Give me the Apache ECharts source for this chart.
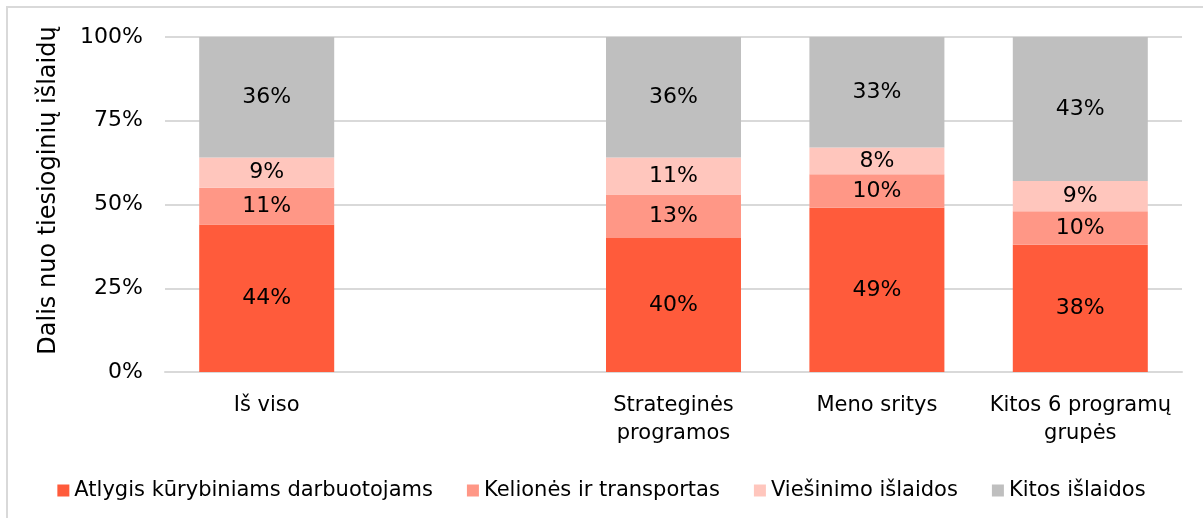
<!DOCTYPE html>
<html>
<head>
<meta charset="utf-8">
<script src="https://cdn.jsdelivr.net/npm/echarts@6/dist/echarts.min.js"></script>
<style>
	html, body { margin: 0; padding: 0; background: #fff; }
	#frame { position: absolute; left: 6px; top: 6px; width: 1210px; height: 530px; border: 2px solid #d9d9d9; box-sizing: border-box; }
	#myEchart { position: absolute; left: 0; top: 0; width: 1203px; height: 518px; }
</style>
</head>
<body>
<div id="frame"></div>
<div id="myEchart"></div>
<script>
var categories = ['Iš viso', '', 'Strateginės\nprogramos', 'Meno sritys', 'Kitos 6 programų\ngrupės'];
var seriesNames = ['Atlygis kūrybiniams darbuotojams', 'Kelionės ir transportas', 'Viešinimo išlaidos', 'Kitos išlaidos'];
var atlygis = [44, '-', 40, 49, 38];
var keliones = [11, '-', 13, 10, 10];
var viesinimas = [9, '-', 11, 8, 9];
var kitos = [36, '-', 36, 33, 43];
var yTicks = [0, 25, 50, 75, 100];

var colors = ['#ff5b3b', '#ff9786', '#ffc6bd', '#bfbfbf'];
var font = 'DejaVu Sans';

function makeSeries (name, data) {
	return {
		name: name,
		type: 'bar',
		stack: 'total',
		barWidth: 135,
		data: data,
		label: {
			show: true,
			position: 'inside',
			color: '#000',
			fontFamily: font,
			fontSize: 22,
			formatter: function (p) { return p.value + '%'; }
		}
	};
}

var chart = echarts.init(document.getElementById('myEchart'));
var option = {
	animation: false,
	color: colors,
	textStyle: { fontFamily: font },
	grid: { left: 165, right: 21, top: 37, bottom: 146 },
	legend: {
		data: seriesNames,
		bottom: 12,
		left: 'center',
		itemWidth: 12,
		itemHeight: 12,
		itemGap: 34,
		icon: 'rect',
		textStyle: { color: '#000', fontSize: 21, fontFamily: font }
	},
	xAxis: {
		type: 'category',
		data: categories,
		axisLine: { lineStyle: { color: '#d9d9d9', width: 2 } },
		axisTick: { show: false },
		axisLabel: { color: '#000', fontSize: 21, fontFamily: font, lineHeight: 28, margin: 20, interval: 0 }
	},
	yAxis: {
		type: 'value',
		min: yTicks[0],
		max: yTicks[yTicks.length - 1],
		interval: 25,
		name: 'Dalis nuo tiesioginių išlaidų',
		nameLocation: 'middle',
		nameGap: 104,
		nameTextStyle: { color: '#000', fontSize: 24, fontFamily: font, padding: [0, 0, 0, 28] },
		axisLine: { show: false },
		axisTick: { show: false },
		splitLine: { lineStyle: { color: '#d9d9d9', width: 2 } },
		axisLabel: { color: '#000', fontSize: 22, fontFamily: font, margin: 22, formatter: '{value}%' }
	},
	series: [
		makeSeries(seriesNames[0], atlygis),
		makeSeries(seriesNames[1], keliones),
		makeSeries(seriesNames[2], viesinimas),
		makeSeries(seriesNames[3], kitos)
	]
};
chart.setOption(option);
</script>
</body>
</html>
